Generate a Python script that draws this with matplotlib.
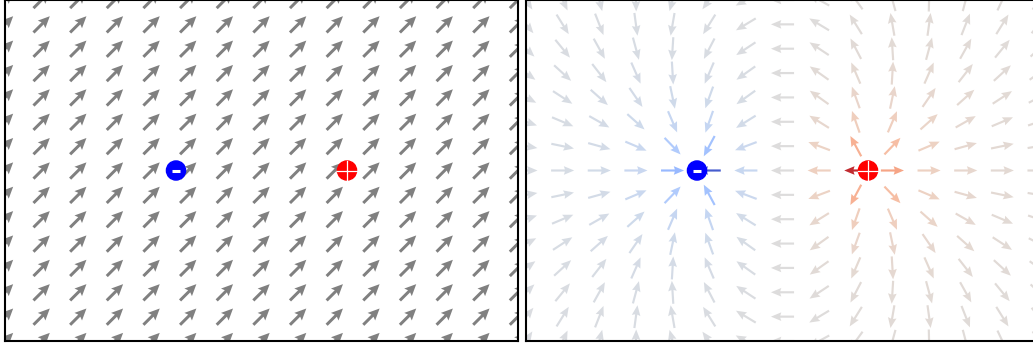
import numpy as np
import matplotlib.pyplot as plt
from matplotlib.patches import Circle
from matplotlib.colors import Normalize

# grid of sample points
x_range = [-1.5, 1.5]
y_range = [-1.0, 1.0]
n_cols = 15
n_rows = 15

# point charges: x, y, q
charge_x = [-0.5, 0.5]
charge_y = [0.0, 0.0]
charge_q = [-1.0, 1.0]

# uniform external field direction (left panel)
uniform_field = [1.0, 1.0]

# potential colour range (right panel)
v_limit = 14.0

xs = np.linspace(x_range[0], x_range[1], n_cols)
ys = np.linspace(y_range[0], y_range[1], n_rows)
X, Y = np.meshgrid(xs, ys)

# dipole field and potential
Ex = np.zeros_like(X)
Ey = np.zeros_like(X)
V = np.zeros_like(X)
for cx, cy, q in zip(charge_x, charge_y, charge_q):
    dx = X - cx
    dy = Y - cy
    r = np.sqrt(dx**2 + dy**2)
    Ex += q * dx / r**3
    Ey += q * dy / r**3
    V += q / r
mag = np.sqrt(Ex**2 + Ey**2)
Ux, Uy = Ex / mag, Ey / mag

ux0 = uniform_field[0] / np.hypot(*uniform_field)
uy0 = uniform_field[1] / np.hypot(*uniform_field)
Ux_left = np.full_like(X, ux0)
Uy_left = np.full_like(X, uy0)

arrow_len = 0.135
W, H = 1033, 347
fig = plt.figure(figsize=(W / 100, H / 100), dpi=100)
ax1 = fig.add_axes([5 / W, 6 / H, 513 / W, 341 / H])
ax2 = fig.add_axes([526 / W, 6 / H, 513 / W, 341 / H])


def draw_charges(ax):
    r = 0.056
    for cx, cy, q in zip(charge_x, charge_y, charge_q):
        col = 'red' if q > 0 else 'blue'
        ax.add_patch(Circle((cx, cy), r, color=col, zorder=5))
        if q > 0:
            ax.plot([cx - r, cx + r], [cy, cy], color='white', lw=0.9, zorder=6)
            ax.plot([cx, cx], [cy - r, cy + r], color='white', lw=0.9, zorder=6)
        else:
            ax.plot([cx - r * 0.45, cx + r * 0.45], [cy, cy], color='white',
                    lw=2.2, solid_capstyle='butt', zorder=6)


ax1.quiver(X, Y, Ux_left, Uy_left, color='gray', pivot='middle',
           angles='xy', scale_units='xy', scale=1 / arrow_len,
           width=0.0058, headwidth=3.6, headlength=3.9, headaxislength=3.4)
draw_charges(ax1)

norm = Normalize(-v_limit, v_limit)
ax2.quiver(X, Y, Ux, Uy, V, cmap='coolwarm', norm=norm, pivot='middle',
           angles='xy', scale_units='xy', scale=1 / arrow_len,
           width=0.0042, headwidth=4.0, headlength=4.8, headaxislength=4.3)
draw_charges(ax2)

for ax in (ax1, ax2):
    ax.set_xlim(x_range)
    ax.set_ylim(y_range)
    ax.set_xticks([])
    ax.set_yticks([])
    for s in ax.spines.values():
        s.set_linewidth(1.5)
        s.set_color('black')

fig.savefig('out.png', dpi=100)
